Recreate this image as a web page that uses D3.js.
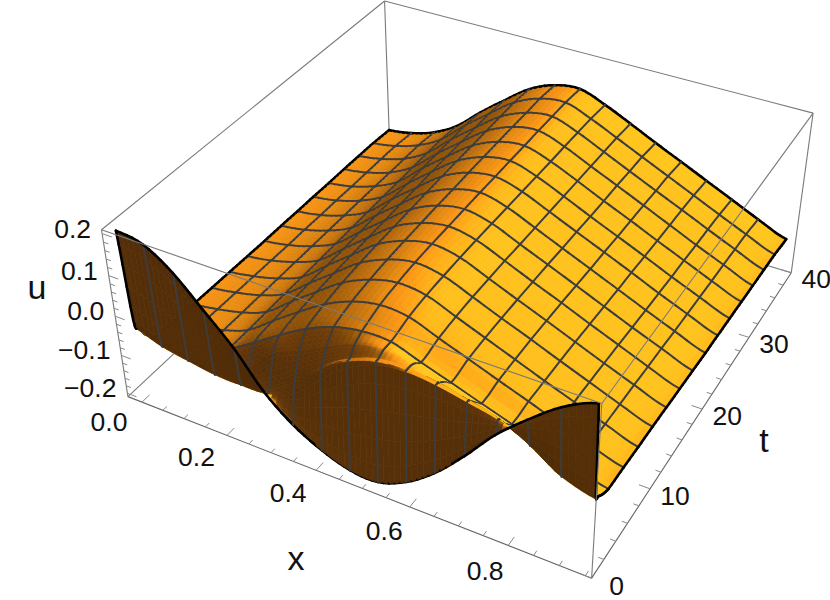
<!DOCTYPE html>
<html><head><meta charset="utf-8">
<script src="https://cdnjs.cloudflare.com/ajax/libs/d3/7.8.5/d3.min.js"></script>
<style>html,body{margin:0;background:#fff}svg{display:block}text{font-family:"Liberation Sans",Arial,sans-serif;fill:#111}</style>
</head><body><svg id="c" width="830" height="600"></svg>
<script>
// ---- data ----
const xValues=[0,.059,.119,.178,.238,.297,.356,.416,.475,.534,.594,.653,.713,.772,.831,.892,.957];
const tValues=[0,.4,.8,1.5,2.5,5,7.5,10,12.5,15,17.5,20,22.5,25,27.5,30,32.5,35,37.8];
const meshT=[2.5,5,7.5,10,12.5,15,17.5,20,22.5,25,27.5,30,32.5,35];
const u00=[.219,.208,.164,.099,.031,-.053,-.111,-.149,-.173,-.176,-.147,-.096,-.026,.052,.114,.17,.207];
const u01=[-.003,-.029,-.045,-.061,-.069,-.066,-.04,.02,.073,.105,.115,.109,.095,.08,.052,.008,-.015];
const u02=[-.03,-.05,-.06,-.07,-.07,-.045,.0,.05,.088,.112,.116,.105,.088,.068,.035,-.002,-.025];
const u03=[-.06,-.064,-.066,-.064,-.045,.015,.045,.08,.108,.12,.112,.094,.072,.047,.018,-.012,-.036];
const u04=[-.085,-.078,-.065,-.042,-.002,.04,.0785,.107,.121,.12,.096,.073,.049,.026,.002,-.021,-.045];
const u05=[-.09,-.08,-.066,-.042,.005,.05,.092,.122,.137,.132,.106,.081,.055,.03,.004,-.022,-.047];
const u06=[-.091,-.081,-.066,-.041,.008,.055,.1,.13,.145,.138,.111,.084,.057,.03,.004,-.023,-.05];
const u07=[-.092,-.082,-.066,-.04,.01,.058,.105,.135,.15,.14,.113,.085,.058,.03,.003,-.025,-.052];
const u08=[-.093,-.083,-.066,-.04,.011,.06,.108,.138,.152,.141,.113,.085,.057,.029,.001,-.027,-.055];
const u09=[-.094,-.084,-.066,-.039,.012,.062,.11,.14,.153,.141,.113,.084,.056,.027,-.001,-.03,-.058];
const u10=[-.095,-.085,-.066,-.038,.014,.064,.112,.142,.154,.14,.111,.083,.054,.025,-.004,-.032,-.061];
const u11=[-.095,-.085,-.066,-.037,.016,.066,.114,.143,.155,.139,.11,.081,.052,.023,-.006,-.035,-.064];
const u12=[-.096,-.086,-.066,-.036,.018,.068,.116,.145,.155,.138,.109,.08,.051,.022,-.008,-.037,-.066];
const u13=[-.096,-.086,-.066,-.035,.019,.07,.117,.146,.156,.137,.108,.078,.049,.02,-.01,-.039,-.068];
const u14=[-.097,-.087,-.066,-.034,.021,.071,.118,.147,.156,.136,.107,.077,.048,.018,-.011,-.041,-.07];
const u15=[-.097,-.087,-.067,-.033,.022,.072,.119,.148,.157,.136,.106,.077,.047,.017,-.013,-.042,-.072];
const u16=[-.098,-.087,-.067,-.032,.023,.073,.12,.148,.157,.135,.105,.075,.045,.016,-.014,-.044,-.074];
const u17=[-.099,-.088,-.067,-.032,.024,.074,.121,.149,.157,.134,.104,.074,.044,.014,-.016,-.046,-.076];
const u18=[-.103,-.093,-.072,-.036,.02,.07,.117,.145,.153,.13,.1,.069,.039,.009,-.021,-.052,-.082];
const uRows=[u00,u01,u02,u03,u04,u05,u06,u07,u08,u09,u10,u11,u12,u13,u14,u15,u16,u17,u18];
const xTicks=[0,.2,.4,.6,.8], xMinor=d3.range(0,.96,.05);
const tTicks=[0,10,20,30,40], tMinor=d3.range(0,41,2);
const uTicks=[-.2,-.1,0,.1,.2], uMinor=d3.range(-.2,.201,.02);

// ---- scales & camera ----
const X=d3.scaleLinear().domain([-.034,.962]).range([-.5,.5]);
const T=d3.scaleLinear().domain([0,40]).range([-.5,.5]);
const U=d3.scaleLinear().domain([-.209,.209]).range([-.2,.2]);
const V=[1.3,-2.4,2], VL=Math.hypot(...V), W=V.map(v=>v/VL);
const R=[.879,.476,0].map((v,i,a)=>v/Math.hypot(...a));
const Up=[W[1]*R[2]-W[2]*R[1],W[2]*R[0]-W[0]*R[2],W[0]*R[1]-W[1]*R[0]];
const dot=(a,b)=>a[0]*b[0]+a[1]*b[1]+a[2]*b[2];
const SX=d3.scaleLinear().domain([0,1]).range([475,475+1710]);
const SY=d3.scaleLinear().domain([0,1]).range([253,253-1710]);
const depth=p=>VL-dot(p,W);
const proj=p=>{const d=depth(p);return [SX(dot(p,R)/d),SY(dot(p,Up)/d)];};
const P=(x,t,u)=>[X(x),T(t),U(u)];

// ---- dense surface (smooth rendering of the table) ----
const n=5;
const cr=(a,b,c,d,s)=>.5*((2*b)+(c-a)*s+(2*a-5*b+4*c-d)*s*s+(3*b-a-3*c+d)*s*s*s);
const nr=tValues.length,nc=xValues.length;
const at=(r,c)=>uRows[Math.max(0,Math.min(nr-1,r))][Math.max(0,Math.min(nc-1,c))];
function sample(fr,fc){
  const r=Math.min(nr-2,Math.floor(fr)),c=Math.min(nc-2,Math.floor(fc)),sr=fr-r,sc=fc-c;
  const rowv=k=>cr(at(k,c-1),at(k,c),at(k,c+1),at(k,c+2),sc);
  const lo=Math.min(rowv(r),rowv(r+1)),hi=Math.max(rowv(r),rowv(r+1));
  const u=Math.max(lo,Math.min(hi,cr(rowv(r-1),rowv(r),rowv(r+1),rowv(r+2),sr)));
  const t=tValues[r]+(tValues[r+1]-tValues[r])*sr;
  const x=xValues[c]+(xValues[c+1]-xValues[c])*sc;
  return P(x,t,u);
}
const NR=(nr-1)*n,NC=(nc-1)*n,G=[];
for(let a=0;a<=NR;a++){G[a]=[];for(let b=0;b<=NC;b++)G[a][b]=sample(a/n,b/n);}

const ramp=d3.scaleLinear().domain([-1,-.6,-.2,.05,.25,.45,.62,.78,.95])
  .range(["#4f2c08","#6b3a08","#8f5208","#c0700e","#e58a12","#fb9616","#ffa918","#ffbd1c","#ffc81e"]).clamp(true);
const L1=[.9,.9,.5];
function shade(p00,p01,p10,p11){
  const a=[p01[0]-p00[0]+p11[0]-p10[0],p01[1]-p00[1]+p11[1]-p10[1],p01[2]-p00[2]+p11[2]-p10[2]];
  const b=[p10[0]-p00[0]+p11[0]-p01[0],p10[1]-p00[1]+p11[1]-p01[1],p10[2]-p00[2]+p11[2]-p01[2]];
  let m=[a[1]*b[2]-a[2]*b[1],a[2]*b[0]-a[0]*b[2],a[0]*b[1]-a[1]*b[0]];
  const l=Math.hypot(...m)||1;m=m.map(v=>v/l);
  const c=[(p00[0]+p11[0])/2,(p00[1]+p11[1])/2,(p00[2]+p11[2])/2];
  const toCam=[V[0]-c[0],V[1]-c[1],V[2]-c[2]];
  if(dot(m,toCam)<0)m=m.map(v=>-v);
  return ramp(dot(m,L1));
}

// ---- painter list ----
const items=[];
for(let a=0;a<NR;a++)for(let b=0;b<NC;b++){
  const q=[G[a][b],G[a][b+1],G[a+1][b+1],G[a+1][b]];
  const col=shade(G[a][b],G[a][b+1],G[a+1][b],G[a+1][b+1]);
  const c=[0,1,2].map(k=>(q[0][k]+q[2][k])/2);
  items.push({pts:q.map(proj).concat([proj(q[0])]),fill:col,stroke:col,w:.7,d:depth(c)});
}
const addLine=(pts,stroke,w)=>{
  for(let i=0;i<pts.length-1;i++){
    const c=[0,1,2].map(k=>(pts[i][k]+pts[i+1][k])/2);
    items.push({pts:[proj(pts[i]),proj(pts[i+1])],fill:"none",stroke,w,d:depth(c)-.006});
  }
};
const meshC="#3d3d3d";
for(let c=1;c<nc-1;c++){addLine(d3.range(0,NR+1).map(a=>G[a][c*n]),meshC,2);}
meshT.forEach(t=>{const r=tValues.indexOf(t);addLine(d3.range(0,NC+1).map(b=>G[r*n][b]),meshC,2);});
addLine(G[0],"#000",2.6);
addLine(G[NR],"#000",2.6);
addLine(G.map(r=>r[0]),"#000",2.6);
addLine(G.map(r=>r[NC]),"#000",2.6);
items.sort((p,q)=>q.d-p.d);

// ---- draw ----
const svg=d3.select("#c");
const line=d3.line();
const x0=X.domain()[0],x1=X.domain()[1],t0=0,t1=40,z0=U.domain()[0],z1=U.domain()[1];
const seg=(g,a,b,c="#7a7a7a",w=1.1)=>g.append("path").attr("d",line([proj(a),proj(b)])).attr("fill","none").attr("stroke",c).attr("stroke-width",w);
const back=svg.append("g");
seg(back,P(x0,t0,z0),P(x0,t1,z0));seg(back,P(x0,t1,z0),P(x1,t1,z0));seg(back,P(x0,t1,z0),P(x0,t1,z1));
seg(back,P(x0,t0,z1),P(x0,t1,z1));seg(back,P(x0,t1,z1),P(x1,t1,z1));seg(back,P(x1,t1,z0),P(x1,t1,z1));
svg.append("g").selectAll("path").data(items).join("path")
  .attr("d",o=>line(o.pts)).attr("fill",o=>o.fill).attr("stroke",o=>o.stroke)
  .attr("stroke-width",o=>o.w).attr("stroke-linecap",o=>o.fill==="none"?"round":null).attr("stroke-linejoin","round");
const front=svg.append("g");
seg(front,P(x0,t0,z1),P(x1,t0,z1));seg(front,P(x1,t0,z1),P(x1,t1,z1));seg(front,P(x1,t0,z0),P(x1,t0,z1));
seg(front,P(x0,t0,z0),P(x0,t0,z1));
seg(front,P(x0,t0,z0),P(x1,t0,z0),"#666");seg(front,P(x1,t0,z0),P(x1,t1,z0),"#666");
// ticks
const isMaj=(v,arr)=>arr.some(a=>Math.abs(a-v)<1e-6);
xMinor.forEach(v=>seg(front,P(v,t0,z0),P(v,t0+(isMaj(v,xTicks)?.95:.5),z0),"#888",1));
tMinor.forEach(v=>seg(front,P(x1,v,z0),P(x1-(isMaj(v,tTicks)?.022:.011),v,z0),"#888",1));
uMinor.forEach(v=>seg(front,P(x0,t0,v),P(x0+(isMaj(v,uTicks)?.022:.011),t0,v),"#888",1));
const label=(s,x,y,size=26.5,anchor="middle")=>front.append("text").attr("x",x).attr("y",y).attr("font-size",size).attr("text-anchor",anchor).attr("dominant-baseline","central").text(s);
xTicks.forEach(v=>{const q=proj(P(v,t0,z0));label(v.toFixed(1),q[0]-33+10*v/.8,q[1]+20+6*v/.8);});
tTicks.forEach(v=>{const q=proj(P(x1,v,z0));label(String(v),q[0]+25,q[1]+8-v*.05);});
uTicks.forEach(v=>{const q=proj(P(x0,t0,v));label((v<0?"\u2212":"")+Math.abs(v).toFixed(1),q[0]-11,q[1]-5,26.5,"end");});
label("x",296,558,34);label("t",764,440,34);label("u",37,287,34);
</script></body></html>
